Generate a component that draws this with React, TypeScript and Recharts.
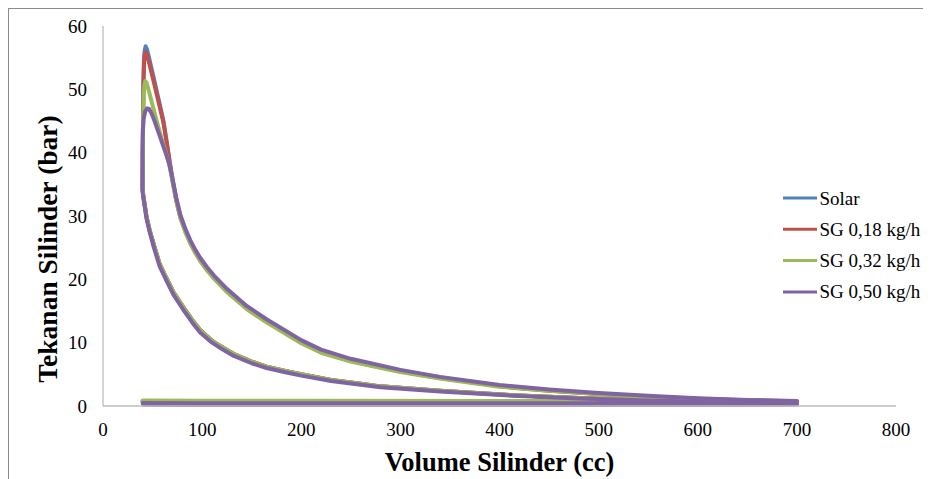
import React from 'react';
import { LineChart, Line, XAxis, YAxis, Legend, Label } from 'recharts';

type Pt = [number, number];

const FONT = 'Liberation Serif, serif';

const xTicks = [0, 100, 200, 300, 400, 500, 600, 700, 800];
const yTicks = [0, 10, 20, 30, 40, 50, 60];

const seriesNames = ['Solar', 'SG 0,18 kg/h', 'SG 0,32 kg/h', 'SG 0,50 kg/h'];
const seriesColors = ['#4F81BD', '#C0504D', '#9BBB59', '#8064A2'];

// Compression stroke, BDC -> TDC (volume cc, pressure bar)
const compressionStroke: Pt[] = [
  [700, 0.45], [660, 0.6], [620, 0.7], [549, 0.9], [480, 1.25], [414, 1.7],
  [340, 2.4], [280, 3.1], [260, 3.5], [230, 4.1], [200, 5.0], [185, 5.5],
  [165, 6.2], [150, 7.0], [132, 8.2], [120, 9.3], [110, 10.3], [98, 12.0],
  [90, 13.6], [81, 15.6], [71, 18.0], [64, 20.2], [57, 22.5], [51, 25.6],
  [47, 27.8], [44, 29.8], [42, 31.8], [40.5, 33.4], [40, 34.2],
];

const compressionSG050: Pt[] = [
  [700, 0.4], [660, 0.55], [620, 0.65], [549, 0.85], [480, 1.2], [414, 1.62],
  [340, 2.3], [280, 2.95], [260, 3.35], [230, 3.95], [200, 4.8], [185, 5.3],
  [165, 6.0], [150, 6.75], [132, 7.9], [120, 9.0], [110, 10.0], [98, 11.6],
  [90, 13.2], [81, 15.2], [71, 17.6], [64, 19.8], [57, 22.1], [51, 25.2],
  [47, 27.5], [44, 29.5], [42, 31.6], [40.3, 33.3], [39.8, 34.2],
];

// Combustion and expansion stroke, TDC -> BDC
const expansionSolar: Pt[] = [
  [40, 34.2], [40.2, 40], [40.4, 46], [40.8, 51], [41.3, 54.3], [42, 56.1],
  [43, 56.8], [44.2, 56.4], [46, 55.3], [48.5, 53.6], [51.5, 51.6], [54.5, 49.5],
  [58, 47.1], [61, 45.0], [64, 42.0], [67, 38.9], [70, 35.9], [74, 32.6],
  [78, 30.0], [83, 27.8], [88, 26.0], [93, 24.5], [98, 23.2], [105, 21.7],
  [112, 20.4], [125, 18.3], [145, 15.6], [165, 13.5], [200, 10.2], [220, 8.7],
  [250, 7.3], [300, 5.6], [340, 4.5], [400, 3.2], [450, 2.5], [500, 1.95],
  [550, 1.5], [600, 1.15], [650, 0.9], [700, 0.75],
];

const expansionSG018: Pt[] = [
  [40, 34.2], [40.2, 40], [40.4, 46], [40.8, 51], [41.3, 54.0], [42, 55.5],
  [43, 55.9], [44.2, 55.5], [46, 54.5], [48.5, 52.9], [51.5, 51.0], [54.5, 49.0],
  [58, 46.7], [61, 44.7], [64, 41.8], [67, 38.7], [70, 35.7], [74, 32.4],
  [78, 29.8], [83, 27.6], [88, 25.8], [93, 24.3], [98, 23.0], [105, 21.5],
  [112, 20.2], [125, 18.1], [145, 15.4], [165, 13.3], [200, 10.0], [220, 8.5],
  [250, 7.1], [300, 5.45], [340, 4.4], [400, 3.1], [450, 2.4], [500, 1.9],
  [550, 1.45], [600, 1.1], [650, 0.85], [700, 0.7],
];

const expansionSG032: Pt[] = [
  [40, 34.2], [40.2, 40], [40.5, 45], [41, 48.5], [41.7, 50.5], [42.6, 51.3],
  [43.8, 51.1], [45.5, 50.2], [48, 48.7], [51, 46.9], [54, 45.1], [57, 43.4],
  [60.5, 41.5], [64, 39.7], [67, 38.0], [70, 35.5], [74, 32.3], [78, 29.7],
  [83, 27.5], [88, 25.7], [93, 24.2], [98, 22.9], [105, 21.4], [112, 20.1],
  [125, 18.0], [145, 15.3], [165, 13.2], [200, 9.9], [220, 8.4], [250, 7.0],
  [300, 5.35], [340, 4.35], [400, 3.05], [450, 2.4], [500, 1.9], [550, 1.45],
  [600, 1.1], [650, 0.85], [700, 0.72],
];

const expansionSG050: Pt[] = [
  [39.8, 34.2], [39.8, 40], [40.2, 43.5], [41, 45.3], [42.5, 46.5], [44.5, 47.0],
  [46.5, 46.9], [49, 46.2], [52, 45.0], [56, 43.2], [60, 41.4], [64, 39.6],
  [67, 38.1], [70, 36.0], [74, 32.8], [78, 30.2], [83, 28.0], [88, 26.2],
  [93, 24.7], [98, 23.4], [105, 21.9], [112, 20.6], [125, 18.5], [145, 15.8],
  [165, 13.7], [200, 10.4], [220, 8.9], [250, 7.45], [300, 5.7], [340, 4.6],
  [400, 3.3], [450, 2.6], [500, 2.05], [550, 1.6], [600, 1.22], [650, 0.95],
  [700, 0.8],
];

// Exhaust (BDC -> TDC) and intake (TDC -> BDC) strokes
const pumpingSolar: Pt[] = [
  [700, 0.72], [600, 0.7], [400, 0.68], [200, 0.7], [100, 0.72], [40, 0.75],
  [41, 0.3], [100, 0.2], [300, 0.2], [500, 0.22], [700, 0.3],
];
const pumpingSG018: Pt[] = [
  [700, 0.7], [600, 0.7], [400, 0.68], [200, 0.7], [100, 0.72], [40, 0.74],
  [41, 0.3], [100, 0.2], [300, 0.2], [500, 0.22], [700, 0.3],
];
const pumpingSG032: Pt[] = [
  [700, 0.75], [600, 0.78], [400, 0.8], [200, 0.82], [100, 0.82], [40, 0.85],
  [41, 0.35], [100, 0.22], [300, 0.22], [500, 0.24], [700, 0.32],
];
const pumpingSG050: Pt[] = [
  [700, 0.6], [600, 0.5], [400, 0.45], [200, 0.45], [100, 0.45], [40, 0.48],
  [41, 0.2], [100, 0.15], [300, 0.15], [500, 0.17], [700, 0.25],
];

const toRows = (...parts: Pt[][]) =>
  parts.flat().map(([v, p]) => ({ v, p }));

const seriesData = [
  toRows(compressionStroke, expansionSolar, pumpingSolar),
  toRows(compressionStroke, expansionSG018, pumpingSG018),
  toRows(compressionStroke, expansionSG032, pumpingSG032),
  toRows(compressionSG050, expansionSG050, pumpingSG050),
];

const CHART_W = 923;
const CHART_H = 471;

const LegendBox = () => (
  <svg width={150} height={130} style={{ display: 'block', overflow: 'visible' }}>
    {seriesNames.map((name, i) => {
      const y = 15 + i * 31.3;
      return (
        <g key={name}>
          <line x1={0} x2={34} y1={y} y2={y} stroke={seriesColors[i]} strokeWidth={3} />
          <text
            x={36.5}
            y={y}
            dominantBaseline="central"
            style={{ fontFamily: FONT, fontSize: 19 }}
            fill="#000"
          >
            {name}
          </text>
        </g>
      );
    })}
  </svg>
);

export default function App() {
  return (
    <div
      style={{
        width: CHART_W,
        height: CHART_H,
        borderLeft: '1px solid #8a8a8a',
        borderTop: '1px solid #8a8a8a',
        background: '#fff',
        fontFamily: FONT,
      }}
    >
      <LineChart
        width={CHART_W}
        height={CHART_H}
        margin={{ top: 17, right: 36, left: 0, bottom: 0 }}
        style={{ fontFamily: FONT }}
      >
        <XAxis
          type="number"
          dataKey="v"
          domain={[0, 800]}
          ticks={xTicks}
          interval={0}
          height={74}
          axisLine={{ stroke: '#bdbdbd', strokeWidth: 1.3 }}
          tickLine={false}
          tickSize={6}
          tickMargin={11}
          tick={{ fill: '#000', fontSize: 19, fontFamily: FONT }}
        >
          <Label
            content={({ viewBox }: any) => (
              <text
                x={viewBox.x + viewBox.width / 2}
                y={462}
                textAnchor="middle"
                style={{ fontFamily: FONT, fontWeight: 'bold', fontSize: 26.5 }}
                fill="#000"
              >
                Volume Silinder (cc)
              </text>
            )}
          />
        </XAxis>
        <YAxis
          type="number"
          domain={[0, 60]}
          ticks={yTicks}
          interval={0}
          width={94}
          axisLine={{ stroke: '#bdbdbd', strokeWidth: 1.3 }}
          tickLine={false}
          tickSize={6}
          tickMargin={10}
          tick={{ fill: '#000', fontSize: 19, fontFamily: FONT }}
        >
          <Label
            content={() => (
              <text
                x={48}
                y={240}
                transform="rotate(-90 48 240)"
                textAnchor="middle"
                style={{ fontFamily: FONT, fontWeight: 'bold', fontSize: 27.5 }}
                fill="#000"
              >
                Tekanan Silinder (bar)
              </text>
            )}
          />
        </YAxis>
        <Legend
          layout="vertical"
          align="center"
          verticalAlign="middle"
          wrapperStyle={{ left: 774, top: 174, width: 150, height: 130 }}
          content={() => <LegendBox />}
        />
        {seriesData.map((rows, i) => (
          <Line
            key={seriesNames[i]}
            name={seriesNames[i]}
            data={rows}
            dataKey="p"
            type="linear"
            stroke={seriesColors[i]}
            strokeWidth={4}
            strokeLinejoin="round"
            strokeLinecap="round"
            dot={false}
            activeDot={false}
            isAnimationActive={false}
          />
        ))}
      </LineChart>
    </div>
  );
}
